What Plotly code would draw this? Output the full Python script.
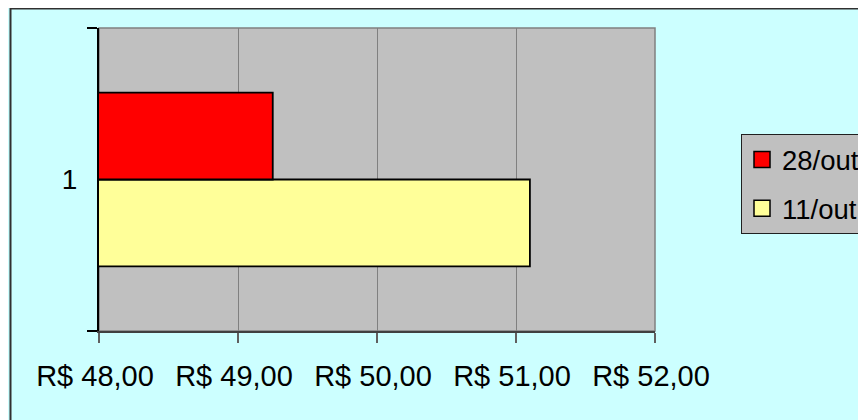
import plotly.graph_objects as go

categories = ["1"]
series_names = ["28/out", "11/out"]
values_28out = [49.25]
values_11out = [51.10]
series_colors = ["#FF0000", "#FFFF99"]
tick_values = [48, 49, 50, 51, 52]
tick_labels = ["R$ 48,00", "R$ 49,00", "R$ 50,00", "R$ 51,00", "R$ 52,00"]

FONT = "Arial, 'Liberation Sans', sans-serif"

# page body has an 8px margin: figure coords = screen - 8
L, T, R, B = 91, 20, 647, 323
W, H = 866, 420
PW, PH = R - L, B - T

fig = go.Figure()
# bottom bar first (11/out), top bar second (28/out)
fig.add_trace(go.Bar(y=categories, x=values_11out, orientation="h",
                     marker=dict(color=series_colors[1], line=dict(color="black", width=1.8)),
                     name=series_names[1], showlegend=False, legendgroup="b"))
fig.add_trace(go.Bar(y=categories, x=values_28out, orientation="h",
                     marker=dict(color=series_colors[0], line=dict(color="black", width=1.8)),
                     name=series_names[0], showlegend=False, legendgroup="a"))
# legend entries
for nm, col, grp in [(series_names[0], series_colors[0], "a"), (series_names[1], series_colors[1], "b")]:
    fig.add_trace(go.Scatter(x=[None], y=[None], mode="markers", name=nm, legendgroup=grp,
                             marker=dict(symbol="square", size=20, color=col,
                                         line=dict(color="black", width=1.5))))

fig.update_layout(
    width=W, height=H,
    margin=dict(l=L, r=W - R, t=T, b=H - B, autoexpand=False),
    paper_bgcolor="#CCFFFF",
    plot_bgcolor="#C0C0C0",
    barmode="group", bargap=0.426, bargroupgap=0,
    font=dict(family=FONT, size=28, color="black"),
    showlegend=True,
    legend=dict(x=(733 - L) / PW, y=(B - 126) / PH, xanchor="left", yanchor="top",
                bgcolor="#C0C0C0", bordercolor="#202020", borderwidth=1,
                font=dict(family=FONT, size=27.5, color="black"),
                traceorder="grouped", tracegroupgap=10,
                itemclick=False),
    xaxis=dict(range=[48, 52], tickvals=tick_values, ticktext=[t + "\u00a0" for t in tick_labels],
               tickfont=dict(size=29), ticklabelstandoff=8,
               showgrid=True, gridcolor="#808080", gridwidth=1,
               showline=True, linecolor="#404040", linewidth=1.5,
               ticks="outside", ticklen=10, tickcolor="#606060", tickwidth=1.5,
               zeroline=False, fixedrange=True),
    yaxis=dict(type="category", tickson="boundaries", ticks="outside", ticklen=10,
               tickcolor="black", tickwidth=1.5, showgrid=False, ticklabelstandoff=14,
               showline=True, linecolor="black", linewidth=2,
               zeroline=False, fixedrange=True),
    shapes=[
        dict(type="rect", xref="paper", yref="paper", x0=0, x1=1, y0=0, y1=1,
             line=dict(color="#808080", width=1.5), layer="below"),
        dict(type="rect", xref="paper", yref="paper",
             x0=(2.5 - L) / PW, x1=(W + 40 - L) / PW,
             y0=(B - (H + 40)) / PH, y1=(B - 0.5) / PH,
             line=dict(color="#303030", width=2), fillcolor="rgba(0,0,0,0)", layer="below"),
    ],
)

fig.write_html("out.html")
